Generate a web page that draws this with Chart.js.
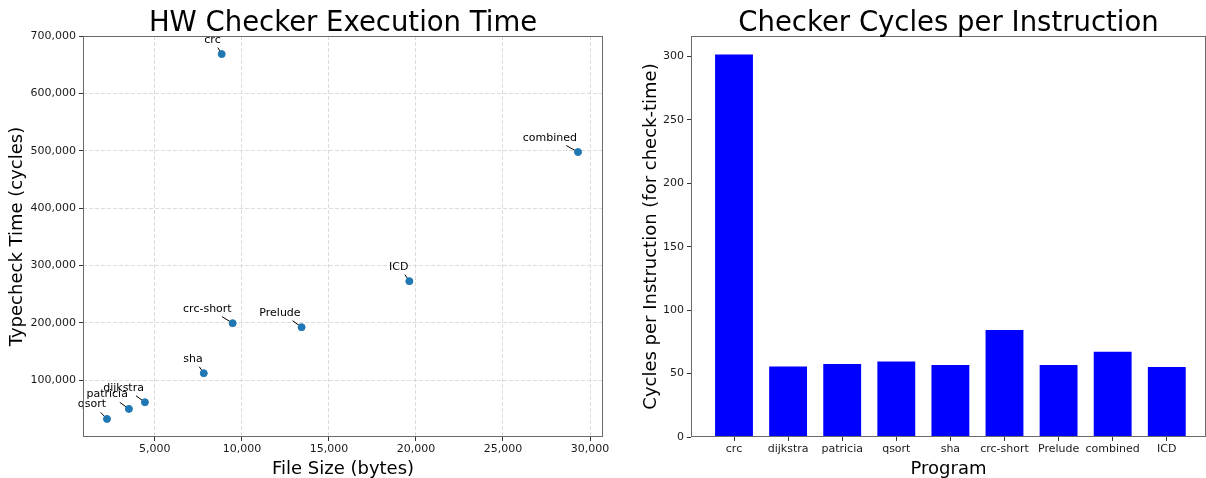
<!DOCTYPE html>
<html lang="en">
<head>
<meta charset="UTF-8">
<title>HW Checker</title>
<script src="https://cdn.jsdelivr.net/npm/chart.js"></script>
<style>
  html, body { margin: 0; padding: 0; background: #fff; }
  body { width: 1206px; height: 478px; position: relative; overflow: hidden; }
  canvas { position: absolute; top: 0; }
  #timeChart { left: 0; }
  #cpiChart { left: 630px; }
</style>
</head>
<body>
<canvas id="timeChart" width="615" height="478"></canvas>
<canvas id="cpiChart" width="576" height="478"></canvas>
<script>
// programs, in the order of the bar chart
const programs = ['crc', 'dijkstra', 'patricia', 'qsort', 'sha', 'crc-short', 'Prelude', 'combined', 'ICD'];

// left: file size vs. typecheck time
const fileSizes = [8840, 4430, 3510, 2250, 7810, 9470, 13430, 29310, 19620];
const checkCycles = [668500, 61600, 50000, 32500, 112200, 199400, 192400, 497700, 272700];

// right: cycles per instruction
const cpiValues = [301.5, 55.6, 57.5, 59.4, 56.7, 84.3, 56.7, 67.2, 55.2];

// tick positions
const sizeTicks = [5000, 10000, 15000, 20000, 25000, 30000];
const cycleTicks = [100000, 200000, 300000, 400000, 500000, 600000, 700000];
const cpiTicks = [0, 50, 100, 150, 200, 250, 300];

const FONT = "'DejaVu Sans', sans-serif";
Chart.defaults.font.family = FONT;
Chart.defaults.font.size = 11;
Chart.defaults.color = '#1a1a1a';

const setTicks = values => scale => { scale.ticks = values.map(v => ({value: v})); };

// box around the plot area + title centred over it
const frameAndTitle = {
    id: 'frameAndTitle',
    afterDraw(chart, args, opts) {
        const {ctx, chartArea: a} = chart;
        ctx.save();
        ctx.strokeStyle = '#6a6a6a';
        ctx.lineWidth = 1;
        ctx.strokeRect(a.left + 0.5, a.top + 0.5, a.right - a.left - 1, a.bottom - a.top - 1);
        ctx.fillStyle = '#000';
        ctx.font = '27.5px ' + FONT;
        ctx.textAlign = 'center';
        ctx.textBaseline = 'alphabetic';
        ctx.fillText(opts.text, (a.left + a.right) / 2, opts.y);
        ctx.restore();
    }
};

// matplotlib-style annotations: label up-left of the point with a short leader line
const pointLabels = {
    id: 'pointLabels',
    beforeDatasetsDraw(chart) {
        const {ctx} = chart;
        const pts = chart.getDatasetMeta(0).data;
        ctx.save();
        ctx.font = '11px ' + FONT;
        ctx.textAlign = 'right';
        ctx.textBaseline = 'alphabetic';
        pts.forEach((p, i) => {
            const w = ctx.measureText(programs[i]).width;
            const right = p.x - 1, base = p.y - 11.5;
            const cx = right - w / 2, cy = base - 4;
            const dx = p.x - cx, dy = p.y - cy;
            const t = Math.min((w / 2 + 2) / Math.abs(dx), 9 / Math.abs(dy));
            ctx.strokeStyle = '#000';
            ctx.lineWidth = 1;
            ctx.beginPath();
            ctx.moveTo(cx + t * dx, cy + t * dy);
            ctx.lineTo(p.x, p.y);
            ctx.stroke();
            ctx.fillStyle = '#000';
            ctx.fillText(programs[i], right, base);
        });
        ctx.restore();
    }
};

const fmt = v => Number(v).toLocaleString('en-US');

new Chart(document.getElementById('timeChart'), {
    type: 'scatter',
    data: {
        datasets: [{
            data: fileSizes.map((x, i) => ({x: x, y: checkCycles[i]})),
            backgroundColor: '#1f77b4',
            borderColor: '#1f77b4',
            pointRadius: 3.5,
            pointHoverRadius: 3.5
        }]
    },
    options: {
        responsive: false,
        animation: false,
        layout: {padding: {top: 36, right: 12, left: 0, bottom: 0}},
        plugins: {
            legend: {display: false},
            tooltip: {enabled: false},
            frameAndTitle: {text: 'HW Checker Execution Time', y: 30.5}
        },
        scales: {
            x: {
                type: 'linear', min: 872, max: 30745,
                afterBuildTicks: setTicks(sizeTicks),
                afterFit: s => { s.height = 41; },
                border: {display: false, dash: [4, 2]},
                grid: {color: '#dcdcdc', tickColor: '#333', tickLength: 4, tickBorderDash: []},
                ticks: {padding: 2, maxRotation: 0, autoSkip: false, callback: fmt},
                title: {display: true, text: 'File Size (bytes)', color: '#000', font: {size: 18, lineHeight: 1}, padding: 0}
            },
            y: {
                type: 'linear', min: 1000, max: 700000,
                afterBuildTicks: setTicks(cycleTicks),
                afterFit: s => { s.width = 83; },
                border: {display: false, dash: [4, 2]},
                grid: {color: '#dcdcdc', tickColor: '#333', tickLength: 4, tickBorderDash: []},
                ticks: {padding: 3, autoSkip: false, callback: fmt},
                title: {display: true, text: 'Typecheck Time (cycles)', color: '#000', font: {size: 18, lineHeight: 1}, padding: {top: 8, bottom: 0}}
            }
        }
    },
    plugins: [pointLabels, frameAndTitle]
});

new Chart(document.getElementById('cpiChart'), {
    type: 'bar',
    data: {
        datasets: [{
            data: cpiValues.map((v, i) => ({x: i, y: v})),
            backgroundColor: '#0000ff',
            borderWidth: 0,
            barPercentage: 0.7,
            categoryPercentage: 1
        }]
    },
    options: {
        responsive: false,
        animation: false,
        layout: {padding: {top: 36, right: 0, left: 0, bottom: 0}},
        plugins: {
            legend: {display: false},
            tooltip: {enabled: false},
            frameAndTitle: {text: 'Checker Cycles per Instruction', y: 30.5}
        },
        scales: {
            x: {
                type: 'linear', min: -0.795, max: 8.725, offset: false,
                afterBuildTicks: setTicks(programs.map((p, i) => i)),
                afterFit: s => { s.height = 41; },
                border: {display: false},
                grid: {drawOnChartArea: false, offset: false, tickColor: '#333', tickLength: 4},
                ticks: {autoSkip: false, padding: 2, maxRotation: 0, callback: v => programs[v] ?? ''},
                title: {display: true, text: 'Program', color: '#000', font: {size: 18, lineHeight: 1}, padding: 0}
            },
            y: {
                type: 'linear', min: 0, max: 316,
                afterBuildTicks: setTicks(cpiTicks),
                afterFit: s => { s.width = 61; },
                border: {display: false},
                grid: {drawOnChartArea: false, tickColor: '#333', tickLength: 4},
                ticks: {autoSkip: false, padding: 3},
                title: {display: true, text: 'Cycles per Instruction (for check-time)', color: '#000', font: {size: 18, lineHeight: 1}, padding: {top: 12, bottom: 0}}
            }
        }
    },
    plugins: [frameAndTitle]
});
</script>
</body>
</html>
